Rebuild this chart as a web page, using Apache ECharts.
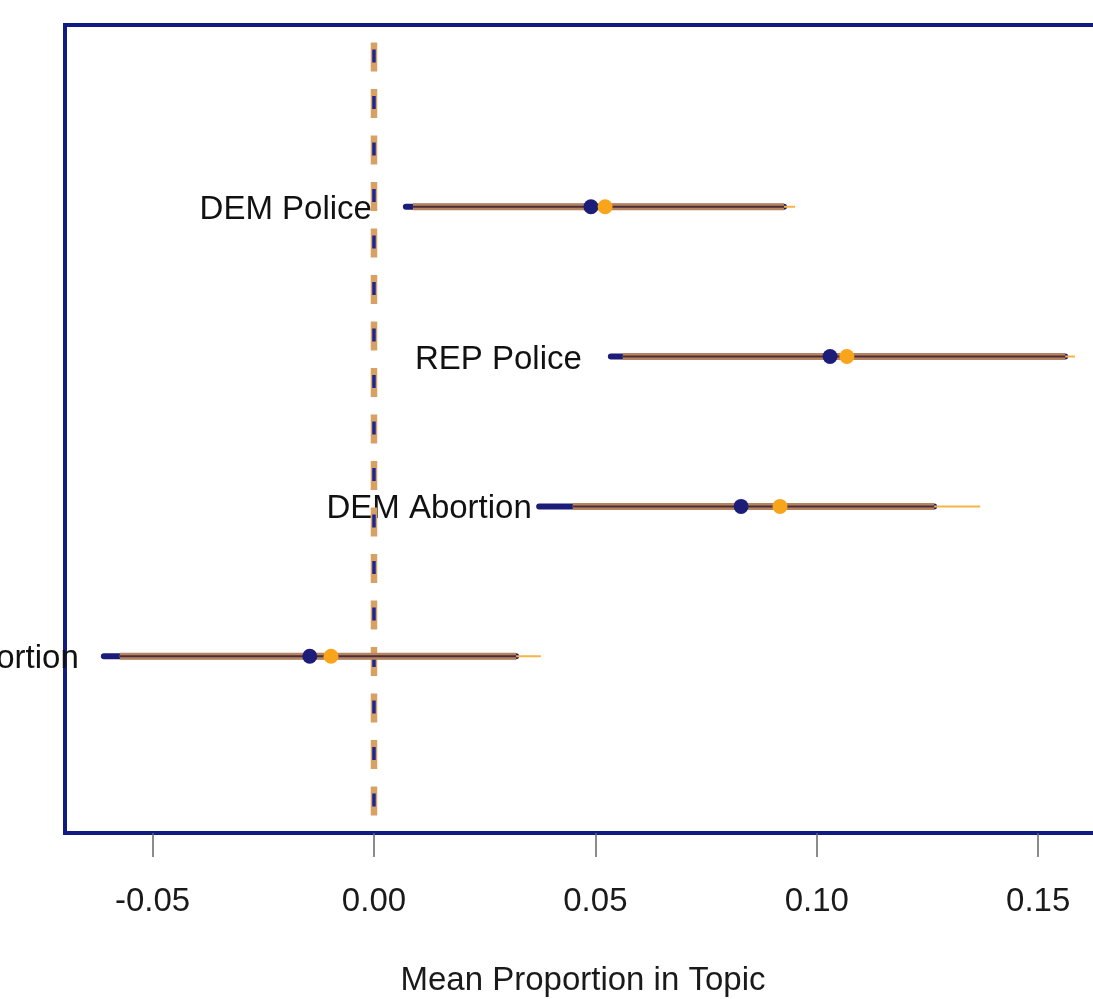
<!DOCTYPE html>
<html>
<head>
<meta charset="utf-8">
<script src="https://cdn.jsdelivr.net/npm/echarts@6/dist/echarts.min.js"></script>
<style>
html,body{margin:0;padding:0;background:#fff;overflow:hidden;}
#c{width:1130px;height:999px;}
</style>
</head>
<body>
<div id="c"></div>
<script>
// ---- data ----
const rows = ['DEM Police', 'REP Police', 'DEM Abortion', 'REP Abortion'];
const rowPos = [1, 2, 3, 4];
const navyMean  = [0.0490, 0.1030, 0.0829, -0.0145];
const navyLower = [0.0072, 0.0535, 0.0373, -0.0610];
const navyUpper = [0.0926, 0.1561, 0.1265, 0.0321];
const orangeMean  = [0.0522, 0.1068, 0.0917, -0.0097];
const orangeLower = [0.0088, 0.0562, 0.0449, -0.0574];
const orangeUpper = [0.0951, 0.1583, 0.1369, 0.0377];
const tickValues = [-0.05, 0.00, 0.05, 0.10, 0.15];
const xMin = -0.06978, xMax = 0.16622;
const yMin = -0.213, yMax = 5.18;
const xTitle = 'Mean Proportion in Topic';

const NAVY = '#1b1d78';
const ORANGE = '#f8a51c';
const FONT = 'Liberation Sans, Arial, Helvetica, sans-serif';

const chart = echarts.init(document.getElementById('c'));

const ciData = rows.map((r, i) => [i]);

chart.setOption({
  animation: false,
  backgroundColor: '#ffffff',
  grid: {
    left: 65, top: 25, width: 1045, height: 808,
    show: true, borderColor: '#101c84', borderWidth: 4,
    backgroundColor: 'transparent'
  },
  xAxis: {
    type: 'value', min: xMin, max: xMax, position: 'bottom',
    axisLine: {show: false, onZero: false},
    splitLine: {show: false},
    axisTick: {show: true, customValues: tickValues, length: 24,
               lineStyle: {color: '#666666', width: 1.5}},
    axisLabel: {show: true, customValues: tickValues, margin: 52,
                fontSize: 33, color: '#1a1a1a', fontFamily: FONT,
                formatter: v => v.toFixed(2)}
  },
  yAxis: {
    type: 'value', inverse: true, min: yMin, max: yMax, show: false
  },
  graphic: [{
    type: 'text', x: 583, y: 981, z: 10,
    style: {text: xTitle, fontSize: 33, fontFamily: FONT, fill: '#1a1a1a',
            textAlign: 'center', textVerticalAlign: 'middle'}
  }],
  series: [
    {
      type: 'line', z: 2, silent: true, showSymbol: false,
      data: [[0, yMin], [0, yMax]],
      lineStyle: {color: '#d8a164', width: 6.5, type: [29, 17.5], dashOffset: 29, cap: 'butt'}
    },
    {
      type: 'line', z: 2, silent: true, showSymbol: false,
      data: [[0, yMin], [0, yMax]],
      lineStyle: {color: '#1d2590', width: 3.5, type: [13, 33.5], dashOffset: 22, cap: 'butt'}
    },
    {
      type: 'custom', z: 3, silent: true,
      data: ciData,
      renderItem: function (params, api) {
        const i = api.value(0);
        const y = rowPos[i];
        const nL = api.coord([navyLower[i], y]);
        const nU = api.coord([navyUpper[i], y]);
        const oL = api.coord([orangeLower[i], y]);
        const oU = api.coord([orangeUpper[i], y]);
        const ovL = api.coord([Math.max(navyLower[i], orangeLower[i]), y]);
        const ovU = api.coord([Math.min(navyUpper[i], orangeUpper[i]), y]);
        return {
          type: 'group',
          children: [
            {type: 'line', shape: {x1: nL[0], y1: nL[1], x2: nU[0], y2: nU[1]},
             style: {stroke: NAVY, lineWidth: 6, lineCap: 'round'}},
            {type: 'line', shape: {x1: oL[0], y1: oL[1], x2: oU[0], y2: oU[1]},
             style: {stroke: '#f6b544', lineWidth: 2}},
            {type: 'line', shape: {x1: ovL[0], y1: ovL[1], x2: ovU[0], y2: ovU[1]},
             style: {stroke: '#b5845e', lineWidth: 7}},
            {type: 'line', shape: {x1: ovL[0], y1: ovL[1], x2: ovU[0], y2: ovU[1]},
             style: {stroke: '#4c2c3a', lineWidth: 2}}
          ]
        };
      }
    },
    {
      type: 'scatter', z: 4, symbol: 'circle', symbolSize: 15,
      itemStyle: {color: NAVY, opacity: 1},
      data: rows.map((r, i) => [navyMean[i], rowPos[i]])
    },
    {
      type: 'scatter', z: 5, symbol: 'circle', symbolSize: 15,
      itemStyle: {color: ORANGE, opacity: 1},
      data: rows.map((r, i) => [orangeMean[i], rowPos[i]])
    },
    {
      type: 'scatter', z: 1, symbol: 'circle', symbolSize: 0.01,
      itemStyle: {color: 'rgba(0,0,0,0)'},
      label: {show: true, position: 'left', distance: 41, offset: [0, 3],
              fontSize: 33, fontFamily: FONT, color: '#111111',
              textBorderWidth: 0, opacity: 1,
              formatter: p => p.name},
      data: rows.map((r, i) => ({name: r, value: [orangeLower[i], rowPos[i]]}))
    }
  ]
});
</script>
</body>
</html>
